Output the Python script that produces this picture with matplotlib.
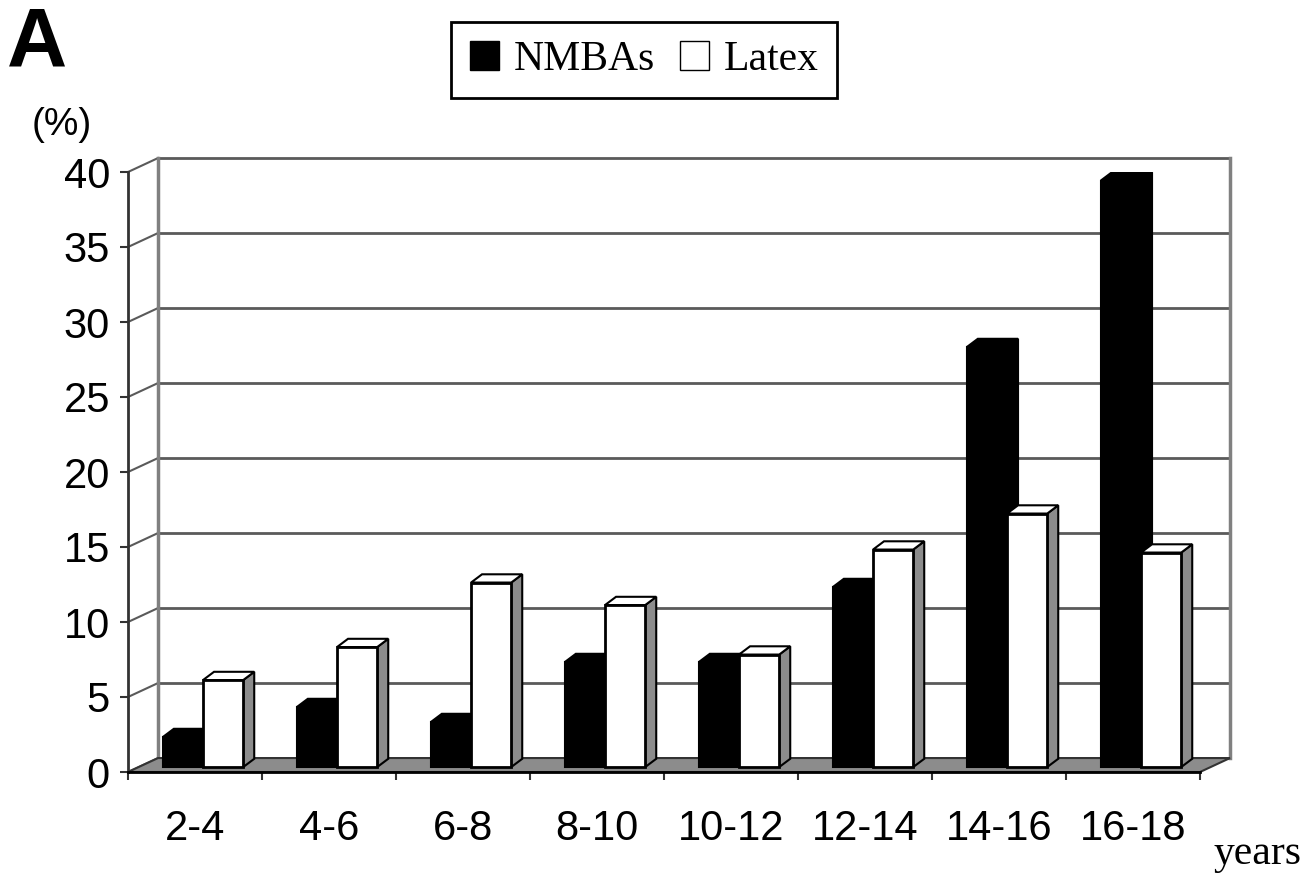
import numpy as np
import matplotlib.pyplot as plt
from matplotlib.patches import Polygon, Patch

# share of cases per age group (%)
age_groups = ['2-4', '4-6', '6-8', '8-10', '10-12', '12-14', '14-16', '16-18']
nmbas = [2, 4, 3, 7, 7, 12, 28, 39.1]
latex = [5.8, 8, 12.3, 10.8, 7.5, 14.5, 16.9, 14.3]

SANS = 'Liberation Sans'
SERIF = 'Liberation Serif'
GRID = '#5a5a5a'
SIDE = '#8c8c8c'

# fake 3d: wall depth, column depth, column front plane offset (data units)
DX, DY = 0.224, 0.93
BX, BY = 0.082, 0.55
ZX, ZY = 0.0, 0.33
W = 0.3

fig = plt.figure(figsize=(13.07, 8.75), dpi=100)
ax = fig.add_axes([128 / 1307, 103 / 875, 1072 / 1307, 600 / 875])
ax.set_xlim(0, 8)
ax.set_ylim(0, 40)

# back wall and side wall
for v in range(0, 45, 5):
    ax.plot([DX, 8 + DX], [v + DY, v + DY], color=GRID, lw=2, clip_on=False, zorder=1)
    ax.plot([0, DX], [v, v + DY], color=GRID, lw=1.5, clip_on=False, zorder=1)
ax.plot([DX, DX], [DY, 40 + DY], color='#808080', lw=2.5, clip_on=False, zorder=1)
ax.plot([8 + DX, 8 + DX], [DY, 40 + DY], color='#808080', lw=2.5, clip_on=False, zorder=1)

# floor
ax.add_patch(Polygon([(0, 0), (8, 0), (8 + DX, DY), (DX, DY)], closed=True,
                     fc=SIDE, ec='#333333', lw=1.5, clip_on=False, zorder=2))

x = np.arange(len(age_groups))
x_nm = x + 0.26 + ZX
x_lt = x + 0.56 + ZX


def column_faces(x0, h, face, side, z):
    top = ZY + h
    ax.add_patch(Polygon([(x0 + W, ZY), (x0 + W, top), (x0 + W + BX, top + BY),
                          (x0 + W + BX, ZY + BY)], closed=True, fc=side,
                         ec='black', lw=1.5, zorder=z))
    ax.add_patch(Polygon([(x0, top), (x0 + W, top), (x0 + W + BX, top + BY),
                          (x0 + BX, top + BY)], closed=True, fc=face,
                         ec='black', lw=1.5, zorder=z))


for i in range(len(age_groups)):
    column_faces(x_nm[i], nmbas[i], 'black', 'black', 3)
    column_faces(x_lt[i], latex[i], 'white', SIDE, 5)

ax.bar(x_nm, nmbas, width=W, bottom=ZY, align='edge', color='black',
       edgecolor='black', lw=1.5, zorder=4, label='NMBAs')
ax.bar(x_lt, latex, width=W, bottom=ZY, align='edge', color='white',
       edgecolor='black', lw=2, zorder=6, label='Latex')

# axes
for s in ['top', 'right']:
    ax.spines[s].set_visible(False)
ax.spines['left'].set_color('#333333')
ax.spines['left'].set_linewidth(2)
ax.spines['bottom'].set_color('black')
ax.spines['bottom'].set_linewidth(2)
ax.spines['left'].set_zorder(7)
ax.spines['bottom'].set_zorder(7)

ax.set_yticks(range(0, 45, 5))
ax.set_yticklabels([str(v) for v in range(0, 45, 5)], fontsize=30, family=SANS)
ax.tick_params(axis='y', direction='out', length=6, width=1.5, color='#333333', pad=7)
ax.set_xticks(x + 0.5)
ax.set_xticklabels(age_groups, fontsize=30, family=SANS)
ax.set_xticks(np.arange(0, 9), minor=True)
ax.tick_params(axis='x', which='major', length=0, pad=27)
ax.tick_params(axis='x', which='minor', direction='out', length=6, width=1.5, color='#333333')

leg = fig.legend(handles=[Patch(fc='black', ec='black'), Patch(fc='white', ec='black')],
                 labels=['NMBAs', 'Latex'], ncol=2, loc='center',
                 bbox_to_anchor=(0.4928, 0.932), prop={'family': SERIF, 'size': 30},
                 frameon=True, fancybox=False, edgecolor='black', framealpha=1,
                 handlelength=0.7, handleheight=0.7, handletextpad=0.35,
                 columnspacing=0.6, borderpad=0.45, borderaxespad=0)
leg.get_frame().set_linewidth(2)

fig.text(62 / 1307, 1 - 125 / 875, '(%)', ha='center', va='center', fontsize=28, family=SANS)
fig.text(7 / 1307, 1 - 45 / 875, 'A', ha='left', va='center', fontsize=60,
         fontweight='bold', family=SANS)
fig.text(1302 / 1307, 1 - 864 / 875, 'years', ha='right', va='baseline', fontsize=30,
         family=SERIF)

fig.savefig('out.png', dpi=100)
